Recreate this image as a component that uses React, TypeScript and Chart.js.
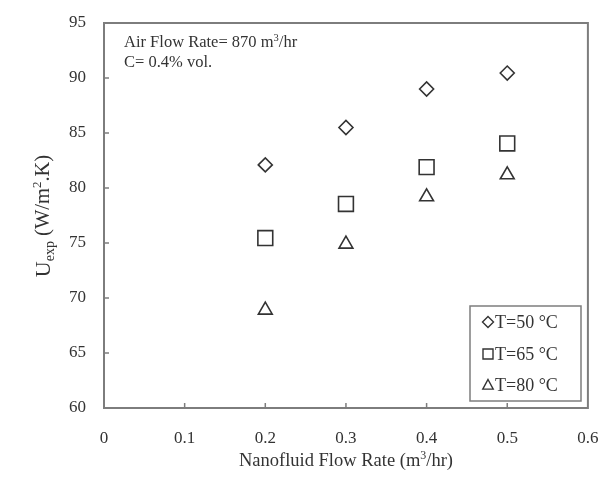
import React, { useEffect, useRef } from "react";
import { Chart, registerables } from "chart.js";
Chart.register(...registerables);

const flowRates = [0.2, 0.3, 0.4, 0.5];
const u50 = [82.1, 85.5, 89.0, 90.45];
const u65 = [75.45, 78.55, 81.9, 84.05];
const u80 = [68.9, 74.9, 79.2, 81.2];
const seriesLabels = ["T=50 °C", "T=65 °C", "T=80 °C"];
const xTickValues = [0, 0.1, 0.2, 0.3, 0.4, 0.5, 0.6];
const yTickValues = [60, 65, 70, 75, 80, 85, 90, 95];
const noteLines = ["Air Flow Rate= 870 m³/hr", "C= 0.4% vol."];

const SERIF = "'Liberation Serif', 'Times New Roman', serif";
const INK = "#333333";
const FRAME = "#7d7d7d";

function drawSymbol(ctx: CanvasRenderingContext2D, kind: string, x: number, y: number, r: number) {
  ctx.beginPath();
  if (kind === "diamond") {
    ctx.moveTo(x, y - r);
    ctx.lineTo(x + r, y);
    ctx.lineTo(x, y + r);
    ctx.lineTo(x - r, y);
    ctx.closePath();
  } else if (kind === "square") {
    ctx.rect(x - r, y - r, 2 * r, 2 * r);
  } else {
    ctx.moveTo(x, y - r);
    ctx.lineTo(x + r * 0.95, y + r * 0.75);
    ctx.lineTo(x - r * 0.95, y + r * 0.75);
    ctx.closePath();
  }
  ctx.stroke();
}

function drawRich(ctx: CanvasRenderingContext2D, parts: [string, number, number][], x: number, y: number, align: "left" | "center") {
  let tw = 0;
  parts.forEach(([t, s]) => {
    ctx.font = `${s}px ${SERIF}`;
    tw += ctx.measureText(t).width;
  });
  let px = align === "center" ? x - tw / 2 : x;
  parts.forEach(([t, s, dy]) => {
    ctx.font = `${s}px ${SERIF}`;
    ctx.fillText(t, px, y + dy);
    px += ctx.measureText(t).width;
  });
}

const decorPlugin = {
  id: "decor",
  afterDraw(chart: any) {
    const ctx: CanvasRenderingContext2D = chart.ctx;
    const { left, right, top, bottom } = chart.chartArea;
    const xs = chart.scales.x;
    const ys = chart.scales.y;
    ctx.save();
    // frame
    ctx.strokeStyle = FRAME;
    ctx.lineWidth = 2;
    ctx.strokeRect(left, top, right - left, bottom - top);
    // inside ticks
    ctx.lineWidth = 1.5;
    ctx.beginPath();
    xTickValues.forEach((v) => {
      const px = xs.getPixelForValue(v);
      if (px > left + 2 && px < right - 2) {
        ctx.moveTo(px, bottom);
        ctx.lineTo(px, bottom - 5);
      }
    });
    yTickValues.forEach((v) => {
      const py = ys.getPixelForValue(v);
      if (py > top + 2 && py < bottom - 2) {
        ctx.moveTo(left, py);
        ctx.lineTo(left + 5, py);
      }
    });
    ctx.stroke();

    ctx.fillStyle = INK;
    ctx.textAlign = "left";
    ctx.textBaseline = "middle";

    // annotation
    drawRich(ctx, [["Air Flow Rate= 870 m", 16.5, 0], ["3", 10.5, -5], ["/hr", 16.5, 0]], left + 20, top + 20, "left");
    ctx.font = `16.5px ${SERIF}`;
    ctx.fillText(noteLines[1], left + 20, top + 40);

    // x title
    drawRich(ctx, [["Nanofluid Flow Rate (m", 18.5, 0], ["3", 12, -5], ["/hr)", 18.5, 0]], (left + right) / 2, 461, "center");

    // y title (rotated)
    ctx.save();
    ctx.translate(44, 216);
    ctx.rotate(-Math.PI / 2);
    drawRich(ctx, [["U", 22, 0], ["exp", 14, 6], [" (W/m", 20.5, 0], ["2", 13, -6], [".K)", 20.5, 0]], 0, 0, "center");
    ctx.restore();

    // legend
    const lx = 470, ly = 306, lw = 111, lh = 95;
    ctx.fillStyle = "#ffffff";
    ctx.fillRect(lx, ly, lw, lh);
    ctx.strokeStyle = FRAME;
    ctx.lineWidth = 1.5;
    ctx.strokeRect(lx, ly, lw, lh);
    const kinds = ["diamond", "square", "triangle"];
    const rows = [322, 354, 385];
    ctx.font = `18px ${SERIF}`;
    seriesLabels.forEach((lab, i) => {
      ctx.strokeStyle = INK;
      ctx.lineWidth = 1.4;
      drawSymbol(ctx, kinds[i], 488, rows[i], i === 1 ? 5 : 5.5);
      ctx.fillStyle = INK;
      ctx.fillText(lab, 495, rows[i] + 1);
    });
    ctx.restore();
  },
};

export default function App() {
  const ref = useRef<HTMLCanvasElement | null>(null);
  useEffect(() => {
    document.body.style.margin = "0";
    const canvas = ref.current;
    if (!canvas) return;
    const mk = (ys: number[]) => flowRates.map((x, i) => ({ x, y: ys[i] }));
    const common = {
      showLine: false,
      backgroundColor: "rgba(0,0,0,0)",
      borderColor: INK,
      pointBorderWidth: 1.6,
    };
    const chart = new Chart(canvas, {
      type: "scatter",
      data: {
        datasets: [
          { ...common, label: seriesLabels[0], data: mk(u50), pointStyle: "rectRot", pointRadius: 7 },
          { ...common, label: seriesLabels[1], data: mk(u65), pointStyle: "rect", pointRadius: 10.5 },
          { ...common, label: seriesLabels[2], data: mk(u80), pointStyle: "triangle", pointRadius: 8 },
        ],
      },
      options: {
        animation: false,
        responsive: false,
        layout: { padding: { left: 0, top: 23, right: 12, bottom: 0 } },
        plugins: { legend: { display: false }, tooltip: { enabled: false } },
        scales: {
          x: {
            type: "linear",
            min: 0,
            max: 0.6,
            grid: { display: false, drawTicks: false },
            border: { display: false },
            afterBuildTicks: (s: any) => {
              s.ticks = xTickValues.map((v) => ({ value: v }));
            },
            afterFit: (s: any) => {
              s.height = 77;
              s.paddingLeft = 0;
              s.paddingRight = 0;
            },
            ticks: {
              padding: 20,
              color: INK,
              font: { family: SERIF, size: 17 },
              callback: (v: any) => String(Math.round(Number(v) * 10) / 10),
              maxRotation: 0,
              autoSkip: false,
            },
          },
          y: {
            type: "linear",
            min: 60,
            max: 95,
            grid: { display: false, drawTicks: false },
            border: { display: false },
            afterBuildTicks: (s: any) => {
              s.ticks = yTickValues.map((v) => ({ value: v }));
            },
            afterFit: (s: any) => {
              s.width = 104;
              s.paddingTop = 0;
              s.paddingBottom = 0;
            },
            ticks: {
              padding: 18,
              color: INK,
              font: { family: SERIF, size: 17 },
              autoSkip: false,
            },
          },
        },
      },
      plugins: [decorPlugin],
    } as any);
    return () => chart.destroy();
  }, []);
  return (
    <div style={{ width: 600, height: 485 }}>
      <canvas ref={ref} width={600} height={485} style={{ display: "block" }} />
    </div>
  );
}
